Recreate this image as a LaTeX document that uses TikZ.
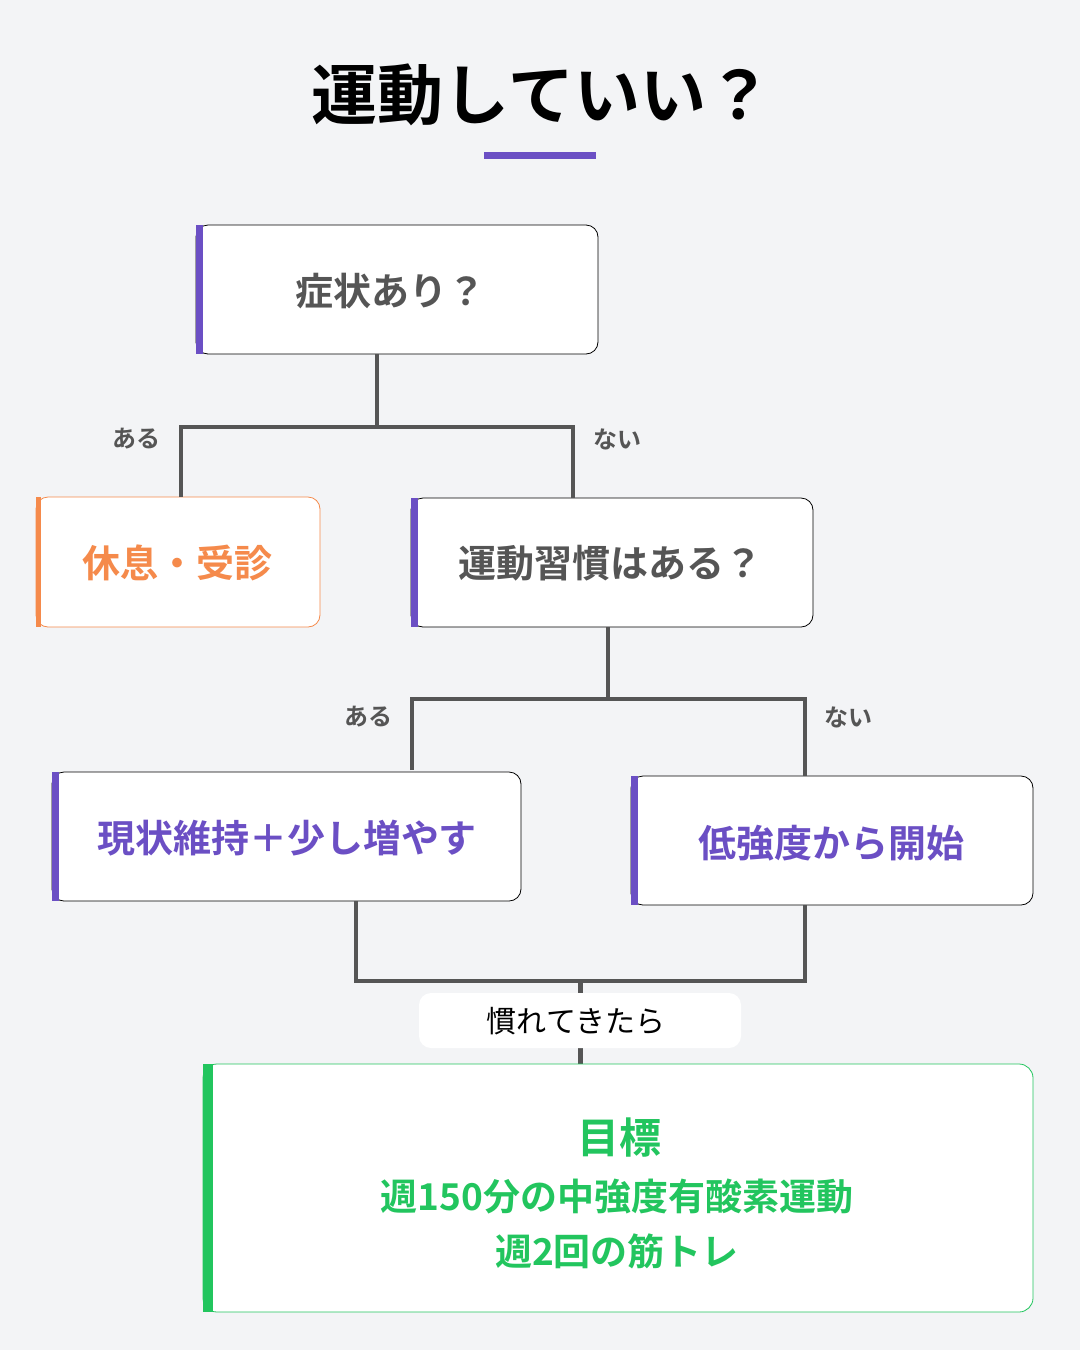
\documentclass[tikz,border=0pt]{standalone}
\usepackage{fontspec}
\setmainfont{Noto Sans CJK JP}[BoldFont={Noto Sans CJK JP Bold}]
\definecolor{bg}{HTML}{F3F4F6}
\definecolor{pur}{HTML}{6B4FC4}
\definecolor{org}{HTML}{F58A4B}
\definecolor{grn}{HTML}{22C55E}
\definecolor{ln}{HTML}{555555}
\definecolor{tx}{HTML}{555555}
\begin{document}
\begin{tikzpicture}[x=1pt,y=-1pt,
 conn/.style={draw=ln,line width=4.5pt},
 lab/.style={font=\fontsize{24}{28}\selectfont\bfseries,text=tx},
 qtext/.style={font=\fontsize{38}{44}\selectfont\bfseries},
 gtext/.style={font=\fontsize{37}{44}\selectfont\bfseries,text=grn}]
\useasboundingbox (0,0) rectangle (1080,1350);
\fill[bg] (0,0) rectangle (1080,1350);
\node[font=\fontsize{66}{76}\selectfont\bfseries] (title) at (542,95) {運動していい？};
\fill[pur] (484,152) rectangle (596,159);
\newcommand\mybox[6]{%
 \draw[fill=white,draw=#5,line width=0.8pt,rounded corners=12] (#1,#2) rectangle (#3,#4);
 \fill[#5] (#1,#2) rectangle (#1+#6,#4);}
\mybox{196}{225}{598}{354}{black}{7}
\fill[pur] (196,225) rectangle (203,354);
\node[qtext,text=tx] (q1) at (390,291) {症状あり？};
\mybox{36}{497}{320}{627}{org}{5}
\node[qtext,text=org] (rest) at (177,563) {休息・受診};
\mybox{411}{498}{813}{627}{black}{7}
\fill[pur] (411,498) rectangle (418,627);
\node[qtext,text=tx] (q2) at (610,563) {運動習慣はある？};
\mybox{52}{772}{521}{901}{black}{7}
\fill[pur] (52,772) rectangle (59,901);
\node[qtext,text=pur] (a1) at (287,838) {現状維持＋少し増やす};
\mybox{631}{776}{1033}{905}{black}{7}
\fill[pur] (631,776) rectangle (638,905);
\node[qtext,text=pur] (a2) at (831,843) {低強度から開始};
\coordinate (q1b) at (377,354);
\coordinate (j1) at (377,427);
\draw[conn] (q1b) -- (j1);
\draw[conn] (181,497) -- (181,427) -- (573,427) -- (573,498);
\node[lab] (l1) at (136,439) {ある};
\node[lab] (l2) at (617,439) {ない};
\draw[conn] (608,627) -- (608,699);
\draw[conn] (412,770) -- (412,699) -- (805,699) -- (805,776);
\node[lab] (l3) at (368,717) {ある};
\node[lab] (l4) at (848,717) {ない};
\draw[conn] (356,901) -- (356,981) -- (805,981) -- (805,905);
\coordinate (m) at (580,981);
\coordinate (g) at (580,1064);
\draw[conn,line width=5pt] (m) -- (g);
\draw[fill=white,draw=none,rounded corners=12] (419,993) rectangle (741,1048);
\node[font=\fontsize{30}{36}\selectfont] (cond) at (576,1021) {慣れてきたら};
\draw[fill=white,draw=grn,line width=0.8pt,rounded corners=14] (203,1064) rectangle (1033,1312);
\fill[grn] (203,1064) rectangle (213,1312);
\node[gtext,font=\fontsize{42}{48}\selectfont\bfseries] (g1) at (619,1138) {目標};
\node[gtext] (g2) at (617,1196) {週150分の中強度有酸素運動};
\node[gtext] (g3) at (617,1251) {週2回の筋トレ};
\end{tikzpicture}
\end{document}
